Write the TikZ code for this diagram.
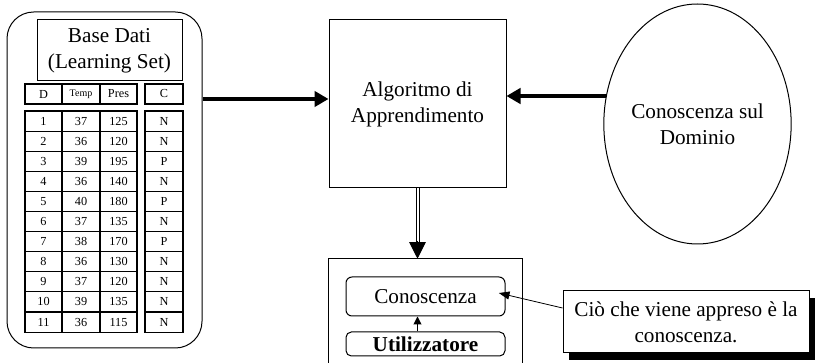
\documentclass[tikz,border=0pt]{standalone}
\usepackage{fontspec}
\setmainfont{Liberation Serif}
\usetikzlibrary{arrows.meta,shapes.geometric,shadows}
\tikzset{
  big/.style={font=\fontsize{15.9}{19.5}\selectfont, align=center},
  thinbox/.style={draw, line width=0.75pt, inner sep=0pt},
  cell/.style={draw, line width=0.8pt, inner sep=0pt, minimum height=15.075pt, font=\fontsize{9.2}{11}\selectfont},
  hcell/.style={cell, minimum height=15pt},
  cw1/.style={minimum width=27.75pt},
  cw2/.style={minimum width=28.5pt},
  thickarrow/.style={line width=2.5pt, -{Triangle[length=10.5pt,width=11.5pt]}},
  dblline/.style={double, double distance=1.5pt, line width=0.75pt, shorten >=11pt},
  dbltip/.style={line width=0.75pt, -{Triangle[length=12.5pt,width=12.5pt]}},
  smallarrow/.style={line width=0.75pt, -{Triangle[length=6pt,width=6pt]}},
}
\begin{document}
\begin{tikzpicture}[x=0.75pt,y=-0.75pt]
\useasboundingbox (0,0) rectangle (815,363);
% Learning set container
\node[thinbox, rounded corners=20pt, minimum width=146.25pt, minimum height=252pt] (ls) at (104.5,180) {};
\node[thinbox, big, minimum width=108.75pt, minimum height=45.75pt] (title) at (109.5,50.5) {Base Dati\\(Learning Set)};
% header
\node[hcell,cw1] (hd) at (43.5,94) {D};
\node[hcell,cw2,font=\fontsize{7.5}{9}\selectfont] (ht) at (81,94) {Temp};
\node[hcell,cw1] (hp) at (118.5,94) {Pres};
\node[hcell,cw2] (hc) at (164,94) {C};
% rows
\foreach \i/\t/\p/\c in {1/37/125/N,2/36/120/N,3/39/195/P,4/36/140/N,5/40/180/P,6/37/135/N,7/38/170/P,8/36/130/N,9/37/120/N,10/39/135/N,11/36/115/N}{
  \node[cell,cw1] (d\i) at (43.5,{121.05+20.1*(\i-1)}) {\i};
  \node[cell,cw2] (t\i) at (81,{121.05+20.1*(\i-1)}) {\t};
  \node[cell,cw1] (p\i) at (118.5,{121.05+20.1*(\i-1)}) {\p};
  \node[cell,cw2] (c\i) at (164,{121.05+20.1*(\i-1)}) {\c};
}
% algorithm
\node[thinbox, big, minimum width=132.75pt, minimum height=126pt] (alg) at (417.5,104) {Algoritmo di\\Apprendimento};
% domain knowledge
\node[thinbox, big, ellipse, minimum width=132.75pt, minimum height=180pt] (ell) at (697.5,124) {Conoscenza sul\\Dominio};
% lower box (open at bottom)
\node[minimum width=144.75pt, minimum height=78pt, inner sep=0pt] (ubox) at (425.5,311) {};
\draw[line width=0.75pt] (ubox.south west) -- (ubox.north west) -- (ubox.north east) -- (ubox.south east);
\node[thinbox, big, rounded corners=4.5pt, minimum width=119.25pt, minimum height=29.25pt] (con) at (425.5,296.5) {Conoscenza};
\node[thinbox, big, rounded corners=4pt, minimum width=119.25pt, minimum height=18pt, font=\fontsize{15.9}{19.5}\selectfont\bfseries] (util) at (425.5,344) {Utilizzatore};
% callout
\node[thinbox, big, fill=white, minimum width=184.5pt, minimum height=46.5pt,
  drop shadow={shadow xshift=4.5pt, shadow yshift=-5.25pt, opacity=1, fill=black}] (call) at (686,322) {Ciò che viene appreso è la\\conoscenza.};
% connectors
\coordinate (ain) at ([yshift=3.75pt]alg.west);
\draw[thickarrow] (ls.east |- ain) -- (ain);
\draw[thickarrow] (ell.163.9) -- (ell.163.9 -| alg.east);
\coordinate (dend) at (alg.south |- ubox.north);
\draw[dblline] (alg.south) -- (dend);
\draw[dbltip] ([yshift=13pt]dend) -- (dend);
\draw[smallarrow] (alg.south |- util.north) -- (alg.south |- con.south);
\draw[line width=0.6pt, -{Triangle[length=8pt,width=6pt]}] ([yshift=10.5pt]call.west) -- ([xshift=-5pt,yshift=2.6pt]con.east);
\end{tikzpicture}
\end{document}
